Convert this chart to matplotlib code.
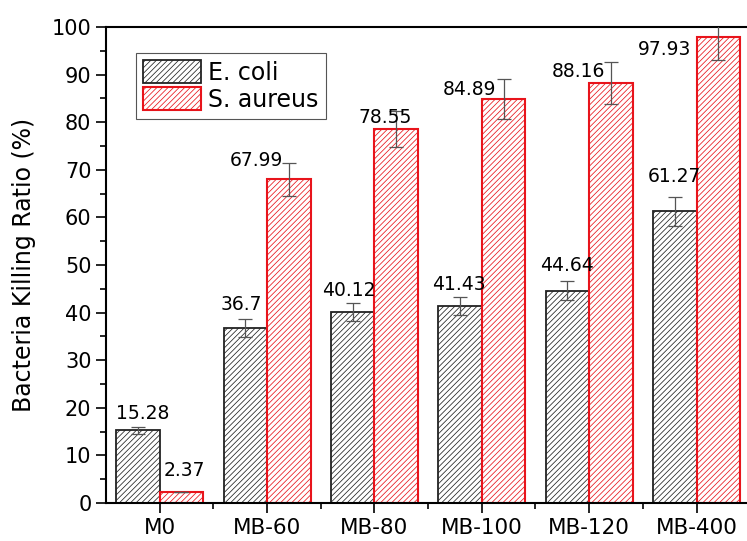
import numpy as np
import matplotlib
matplotlib.use('Agg')
import matplotlib.pyplot as plt
from matplotlib.ticker import MultipleLocator

# Data
samples = ['M0', 'MB-60', 'MB-80', 'MB-100', 'MB-120', 'MB-400']
ecoli = [15.28, 36.7, 40.12, 41.43, 44.64, 61.27]
ecoli_err = [0.7, 1.9, 1.95, 1.9, 2.0, 3.0]
saureus = [2.37, 67.99, 78.55, 84.89, 88.16, 97.93]
saureus_err = [0.0, 3.4, 3.85, 4.2, 4.4, 4.9]

# Value label placement (x offset from category centre, y centre of text)
ecoli_lab_dx = [-0.16, -0.24, -0.24, -0.21, -0.21, -0.21]
ecoli_lab_y = [18.9, 41.6, 44.7, 45.8, 49.8, 68.5]
saureus_lab_dx = [0.23, -0.10, 0.10, -0.11, -0.10, -0.30]
saureus_lab_y = [6.9, 72.0, 81.0, 86.8, 90.7, 95.2]

plt.rcParams['font.family'] = 'DejaVu Sans'
plt.rcParams['hatch.linewidth'] = 0.55

fig = plt.figure(figsize=(7.47, 5.41), dpi=100)
ax = fig.add_axes([106 / 747, 38 / 541, 1 - 106 / 747, 476 / 541])

x = np.arange(len(samples))
w = 0.405

ax.bar(x - w / 2, ecoli, w, color='white', edgecolor='#222222', hatch='//////',
       linewidth=1.3, label='E. coli', zorder=2)
ax.bar(x + w / 2, saureus, w, color='white', edgecolor='#e8141b', hatch='//////',
       linewidth=1.5, label='S. aureus', zorder=2)

ax.errorbar(x - w / 2, ecoli, yerr=ecoli_err, fmt='none', ecolor='#555555',
            elinewidth=0.9, capsize=5, capthick=0.9, zorder=3)
ax.errorbar(x + w / 2, saureus, yerr=saureus_err, fmt='none', ecolor='#555555',
            elinewidth=0.9, capsize=5, capthick=0.9, zorder=3)

for i in range(len(samples)):
    ax.text(x[i] + ecoli_lab_dx[i], ecoli_lab_y[i], f'{ecoli[i]:g}',
            ha='center', va='center', fontsize=13.5)
    ax.text(x[i] + saureus_lab_dx[i], saureus_lab_y[i], f'{saureus[i]:g}',
            ha='center', va='center', fontsize=13.5)

ax.set_xlim(-0.5, 5.47)
ax.set_ylim(0, 100)
ax.set_xticks(x)
ax.set_xticklabels(samples, fontsize=15.5)
ax.set_xticks(x[:-1] + 0.5, minor=True)
ax.yaxis.set_major_locator(MultipleLocator(10))
ax.yaxis.set_minor_locator(MultipleLocator(5))
ax.tick_params(axis='y', labelsize=15)
ax.tick_params(which='major', direction='out', length=7, width=1.2)
ax.tick_params(which='minor', direction='out', length=4, width=1.2)
ax.set_ylabel('Bacteria Killing Ratio (%)', fontsize=17, labelpad=11)

ax.spines['right'].set_visible(False)
for s in ['left', 'bottom', 'top']:
    ax.spines[s].set_linewidth(1.5)

leg = ax.legend(loc='upper left', bbox_to_anchor=(0.047, 0.945), fontsize=17,
                handlelength=2.45, handleheight=1.1, handletextpad=0.3,
                borderaxespad=0, borderpad=0.3, labelspacing=0.12,
                fancybox=False, edgecolor='#555555', framealpha=1)
leg.get_frame().set_linewidth(0.8)

plt.savefig('out.png', dpi=100)
